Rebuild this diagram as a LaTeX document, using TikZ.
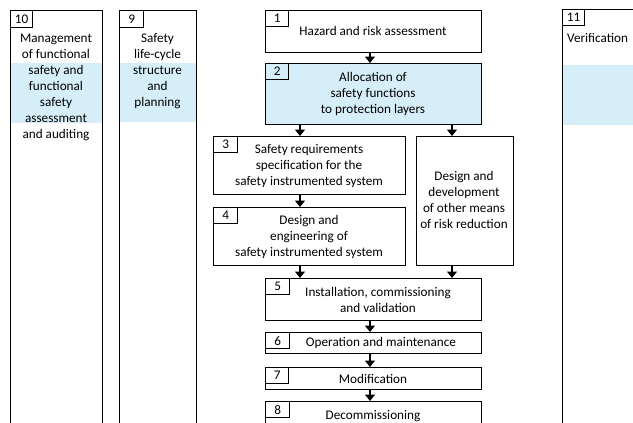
\documentclass[tikz,border=0pt]{standalone}
\usepackage{fontspec}
\setmainfont{Carlito}
\usetikzlibrary{arrows.meta}
\definecolor{bandblue}{HTML}{D6EEF8}
\begin{document}
\begin{tikzpicture}[x=1pt,y=-1pt,
  frame/.style={draw=black, line width=1.2pt, inner sep=0pt, anchor=north west},
  numbox/.style={draw=black, line width=1.2pt, inner sep=0pt, anchor=north west,
    minimum width=23pt, minimum height=16pt, font=\fontsize{13.2}{16}\selectfont},
  txt/.style={inner sep=0pt, align=center, font=\fontsize{13.2}{16}\selectfont},
  flow/.style={line width=1.2pt, -{Triangle[length=6.5pt,width=10pt]}}
]
\useasboundingbox (0,0) rectangle (633,423);
\clip (0,0) rectangle (633,423);

% shaded bands of the side columns
\fill[bandblue] (10,63) rectangle (102,123);
\fill[bandblue] (119,63) rectangle (196,122);
\fill[bandblue] (562,65) rectangle (700,125);

% side columns (open towards the bottom)
\node[frame, minimum width=92pt, minimum height=460pt] (c10) at (10,10) {};
\node[numbox, minimum width=22pt, minimum height=17pt] (n10) at (10,10) {10};
\node[txt] (t10) at (56,87) {Management\\of functional\\safety and\\functional\\safety\\assessment\\and auditing};

\node[frame, minimum width=77pt, minimum height=460pt] (c9) at (119,10) {};
\node[numbox, minimum width=24pt, minimum height=17pt] (n9) at (119,10) {9};
\node[txt] (t9) at (157.5,71) {Safety\\life-cycle\\structure\\and\\planning};

\node[frame, minimum width=140pt, minimum height=460pt] (c11) at (562,9) {};
\node[numbox, minimum width=22pt, minimum height=16pt] (n11) at (562,9) {11};
\node[txt, anchor=west] (t11) at (567,38) {Verification};

% main sequence of phases
\node[frame, minimum width=216pt, minimum height=42pt] (b1) at (265,10) {};
\node[numbox] (n1) at (265,10) {1};
\node[txt] (t1) at (373,31) {Hazard and risk assessment};

\node[frame, fill=bandblue, minimum width=216pt, minimum height=61pt] (b2) at (265,63) {};
\node[numbox] (n2) at (265,63) {2};
\node[txt] (t2) at (373,94) {Allocation of\\safety functions\\to protection layers};

\node[frame, minimum width=192pt, minimum height=58pt] (b3) at (213,136) {};
\node[numbox, minimum width=24pt] (n3) at (213,136) {3};
\node[txt] (t3) at (309,166) {Safety requirements\\specification for the\\safety instrumented system};

\node[frame, minimum width=192pt, minimum height=58pt] (b4) at (213,207) {};
\node[numbox, minimum width=24pt] (n4) at (213,207) {4};
\node[txt] (t4) at (309,237) {Design and\\engineering of\\safety instrumented system};

\node[frame, minimum width=97pt, minimum height=129pt] (br) at (416,136) {};
\node[txt] (tr) at (464,200) {Design and\\development\\of other means\\of risk reduction};

\node[frame, minimum width=216pt, minimum height=42pt] (b5) at (265,278) {};
\node[numbox, minimum width=24pt] (n5) at (265,278) {5};
\node[txt] (t5) at (378,299.5) {Installation, commissioning\\and validation};

\node[frame, minimum width=216pt, minimum height=21pt] (b6) at (265,332) {};
\node[numbox, minimum width=24pt] (n6) at (265,332) {6};
\node[txt] (t6) at (381,343) {Operation and maintenance};

\node[frame, minimum width=216pt, minimum height=22pt] (b7) at (265,367) {};
\node[numbox, minimum width=23pt] (n7) at (265,367) {7};
\node[txt] (t7) at (373,378.5) {Modification};

\node[frame, minimum width=216pt, minimum height=60pt] (b8) at (265,401) {};
\node[numbox, minimum width=24pt] (n8) at (265,401) {8};
\node[txt] (t8) at (373,416.5) {Decommissioning};

% connector columns
\coordinate (xm) at (370,0);
\coordinate (xl) at (300,0);
\coordinate (xr) at (452,0);

\draw[flow] (b1.south -| xm) -- (b2.north -| xm);
\draw[flow] (b2.south -| xl) -- (b3.north -| xl);
\draw[flow] (b2.south -| xr) -- (br.north -| xr);
\draw[flow] (b3.south -| xl) -- (b4.north -| xl);
\draw[flow] (b4.south -| xl) -- (b5.north -| xl);
\draw[flow] (br.south -| xr) -- (b5.north -| xr);
\draw[flow] (b5.south -| xm) -- (b6.north -| xm);
\draw[flow] (b6.south -| xm) -- (b7.north -| xm);
\draw[flow] (b7.south -| xm) -- (b8.north -| xm);
\end{tikzpicture}
\end{document}
